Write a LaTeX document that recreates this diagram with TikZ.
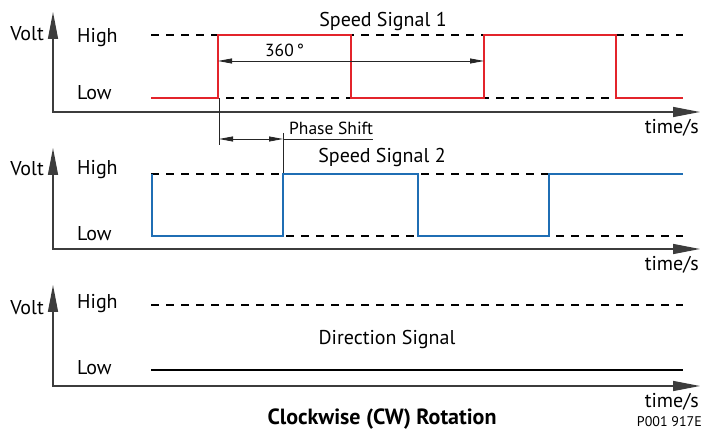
\documentclass[tikz,border=0pt]{standalone}
\usepackage{fontspec}
\setmainfont{PT Sans}
\usepackage{xcolor}
\usepackage{tikz}
\usetikzlibrary{arrows.meta}
\definecolor{sigred}{HTML}{E3242B}
\definecolor{sigblue}{HTML}{1F6EB4}
\definecolor{axisgray}{HTML}{3C3C3C}

\begin{document}
\begin{tikzpicture}[x=1pt, y=-1pt,
  axis/.style={axisgray, line width=1.5pt, {Triangle[length=27pt, width=10pt]}-{Triangle[length=27pt, width=10pt]}},
  level/.style={black, line width=1.4pt, dash pattern=on 8pt off 7pt},
  dim/.style={black!85, line width=0.8pt},
  dimtip/.style={dim, {Triangle[length=14pt, width=5pt]}-{Triangle[length=14pt, width=5pt]}},
  lbl/.style={font=\fontsize{20}{24}\selectfont, inner sep=0pt},
  smalllbl/.style={font=\fontsize{17.5}{20}\selectfont, inner sep=0pt}]
\useasboundingbox (0,0) rectangle (702,435);
% axes of the three panels
\foreach \ax/\tp/\hb/\lb/\vb in {112/12/43/100/41, 249/148/175/241/176, 386/285/309/375/315} {
  \draw[axis] (53,\tp) -- (53,\ax) -- (700,\ax);
  \node[lbl, anchor=base east] at (44,\vb) {Volt};
  \node[lbl, anchor=base west] at (77,\hb) {High};
  \node[lbl, anchor=base west] at (77,\lb) {Low};
  \node[lbl, anchor=base east] at (699,\ax+22) {time/s};
}
% top: speed signal 1
\draw[level] (151,35) -- (683,35);
\draw[level] (151,98) -- (683,98);
\draw[sigred, line width=2.4pt] (151,98) -- (218,98) -- (218,35) -- (351,35) -- (351,98)
  -- (484,98) -- (484,35) -- (616,35) -- (616,98) -- (683,98);
\node[lbl, anchor=base] (title1) at (383,27) {Speed Signal 1};
\coordinate (p1) at (218,61);
\coordinate (p2) at (484,61);
\draw[dimtip] (p1) -- (p2);
\node[smalllbl, anchor=base west] (deg) at (265,57) {360\,°};
% phase shift between the two
\coordinate (s1) at (219,139);
\coordinate (s2) at (283,139);
\coordinate (s3) at (373,139);
\draw[dim] (219,98) -- (219,145);
\draw[dim] (283,133) -- (283,176);
\draw[dimtip] (s1) -- (s2);
\draw[dim] (s2) -- (s3);
\node[smalllbl, anchor=base west] (phase) at (289,135) {Phase Shift};
% middle: speed signal 2
\draw[level] (151,174) -- (683,174);
\draw[level] (151,236) -- (683,236);
\draw[sigblue, line width=2.4pt] (152,174) -- (152,236) -- (283,236) -- (283,174) -- (418,174)
  -- (418,236) -- (549,236) -- (549,174) -- (683,174);
\node[lbl, anchor=base] (title2) at (382,163) {Speed Signal 2};
% bottom: direction signal
\draw[level] (151,305) -- (683,305);
\draw[black, line width=2.4pt] (151,370) -- (683,370);
\node[lbl, anchor=base] (title3) at (387,345) {Direction Signal};
\node[lbl, anchor=base, font=\fontsize{22}{26}\selectfont\bfseries] (caption) at (382,425) {Clockwise (CW) Rotation};
\node[inner sep=0pt, anchor=base east, font=\fontsize{14}{16}\selectfont] (code) at (702,427) {P001 917E};
\end{tikzpicture}
\end{document}
